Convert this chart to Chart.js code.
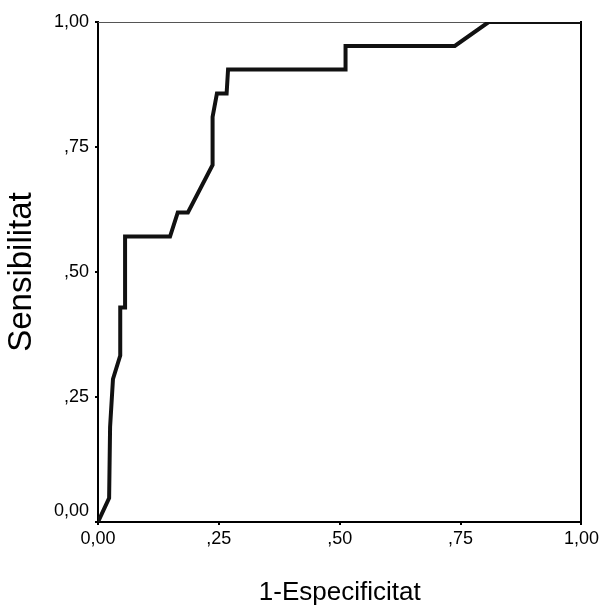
<!DOCTYPE html>
<html>
<head>
<meta charset="utf-8">
<script src="https://cdn.jsdelivr.net/npm/chart.js@4/dist/chart.umd.min.js"></script>
<style>
	html, body { margin: 0; padding: 0; background: #fff; }
	#wrap { width: 602px; height: 608px; }
</style>
</head>
<body>
<div id="wrap"><canvas id="rocChart" width="602" height="608"></canvas></div>
<script>
const fpr = [0, 0.023, 0.025, 0.031, 0.046, 0.046, 0.056, 0.056, 0.149, 0.165, 0.186, 0.237, 0.237, 0.246, 0.256, 0.266, 0.269, 0.512, 0.512, 0.738, 0.808, 1];
const tpr = [0, 0.048, 0.190, 0.286, 0.333, 0.429, 0.429, 0.571, 0.571, 0.619, 0.619, 0.714, 0.810, 0.857, 0.857, 0.857, 0.905, 0.905, 0.952, 0.952, 1, 1];
const xTickLabels = ['0,00', ',25', ',50', ',75', '1,00'];
const yTickLabels = [['0,00', ''], ',25', ',50', ',75', '1,00'];
const xTitle = '1-Especificitat';
const yTitle = 'Sensibilitat';

document.addEventListener('DOMContentLoaded', function() {
	if (typeof Chart === 'undefined') {
		return;
	}
	const ctx = document.getElementById('rocChart');
	const font = "'Liberation Sans', Arial, sans-serif";

	const points = fpr.map(function(x, i) {
		return { x: x, y: tpr[i] };
	});

	new Chart(ctx.getContext('2d'), {
		type: 'line',
		data: {
			datasets: [{
				data: points,
				borderColor: '#111',
				borderWidth: 4,
				pointRadius: 0,
				tension: 0,
				fill: false
			}]
		},
		options: {
			responsive: false,
			animation: false,
			layout: { padding: { left: 0, right: 20, top: 22, bottom: 0 } },
			plugins: { legend: { display: false }, tooltip: { enabled: false } },
			scales: {
				x: {
					type: 'linear',
					position: 'bottom',
					min: 0,
					max: 1,
					afterFit: function(scale) { scale.height = 86; },
					ticks: {
						stepSize: 0.25,
						color: '#000',
						padding: 3,
						maxRotation: 0,
						font: { family: font, size: 18 },
						callback: function(v, i) { return xTickLabels[i]; }
					},
					grid: { drawOnChartArea: false, drawTicks: true, tickLength: 3, color: '#000', lineWidth: 2 },
					border: { display: true, color: '#000', width: 2 },
					title: {
						display: true,
						text: xTitle,
						color: '#000',
						padding: { top: 0, bottom: 0 },
						font: { family: font, size: 26 }
					}
				},
				y: {
					type: 'linear',
					position: 'left',
					min: 0,
					max: 1,
					afterFit: function(scale) { scale.width = 98; },
					ticks: {
						stepSize: 0.25,
						color: '#000',
						padding: 6,
						font: { family: font, size: 18 },
						callback: function(v, i) { return yTickLabels[i]; }
					},
					grid: { drawOnChartArea: false, drawTicks: true, tickLength: 3, color: '#000', lineWidth: 2 },
					border: { display: true, color: '#000', width: 2 },
					title: {
						display: true,
						text: yTitle,
						color: '#000',
						padding: { top: 2, bottom: 0 },
						font: { family: font, size: 33 }
					}
				},
				xTop: {
					type: 'linear',
					position: 'top',
					min: 0,
					max: 1,
					afterFit: function(scale) { scale.height = 0; },
					ticks: { display: false },
					grid: { display: false },
					border: { display: true, color: '#555', width: 1 }
				},
				yRight: {
					type: 'linear',
					position: 'right',
					min: 0,
					max: 1,
					afterFit: function(scale) { scale.width = 0; },
					ticks: { display: false },
					grid: { display: false },
					border: { display: true, color: '#000', width: 2 }
				}
			}
		}
	});
});
</script>
</body>
</html>
